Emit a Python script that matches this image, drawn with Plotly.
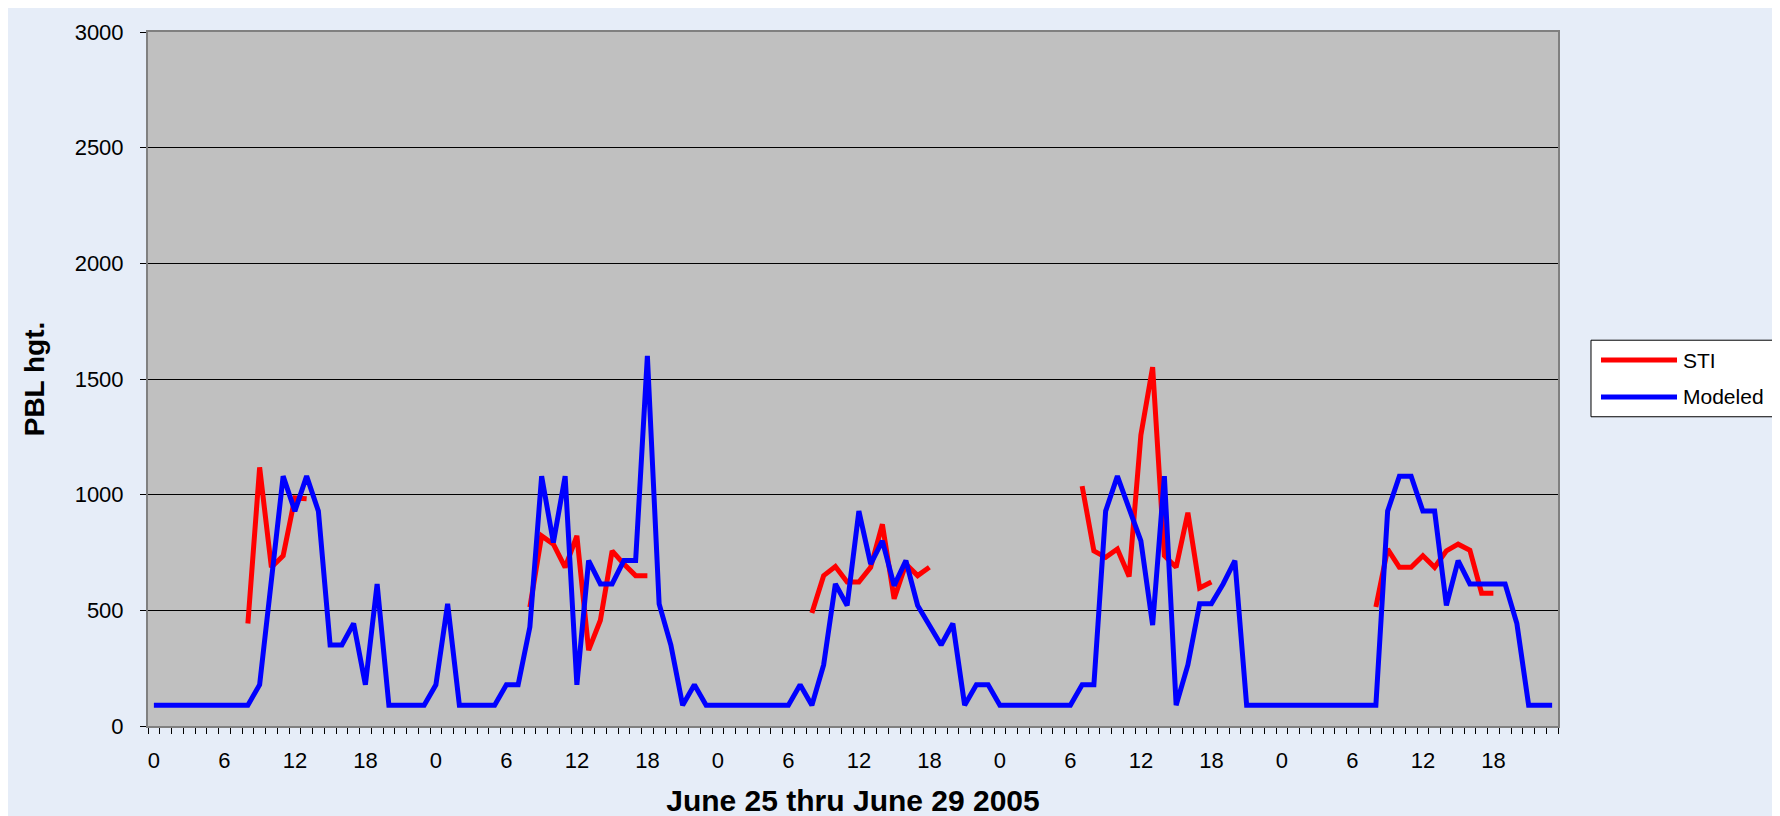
import plotly.graph_objects as go

# hours 0..119, June 25 00h thru June 29 23h
hours = list(range(120))

sti = (
    [None] * 8
    + [443, 1118, 686, 736, 986, 982]
    + [None] * 18
    + [514, 822, 786, 686, 822, 328, 457, 757, 700, 650, 650]
    + [None] * 13
    + [489, 650, 689, 622, 622, 686, 872, 550, 700, 650, 686]
    + [None] * 12
    + [1037, 757, 729, 765, 646, 1258, 1551, 736, 686, 922, 597, 622]
    + [None] * 13
    + [514, 765, 686, 686, 736, 686, 757, 786, 760, 574, 574]
    + [None] * 5
)

modeled = (
    [90] * 9
    + [178, 630, 1080, 929, 1080, 929, 350, 350, 443, 178, 614]
    + [90, 90, 90, 90, 178, 528, 90, 90, 90, 90, 178, 178, 428, 1080, 793, 1080,
       178, 715, 614, 614, 715, 715, 1600, 528, 350, 90, 178, 90]
    + [90] * 7
    + [178, 90, 264, 614, 521, 929, 700, 800, 607, 715, 521, 436, 350, 443, 90, 178, 178]
    + [90] * 7
    + [178, 178, 929, 1080, 940, 800, 436, 1080, 90, 264, 528, 528, 614, 715]
    + [90] * 12
    + [929, 1080, 1080, 929, 929, 521, 715, 614, 614, 614, 614, 443, 90, 90, 90]
)

tick_pos = list(range(0, 120, 6))
tick_text = ["0", "6", "12", "18"] * 5

series_names = ["STI", "Modeled"]
series_colors = ["#ff0000", "#0000ff"]

font = "Liberation Sans, Arial, sans-serif"

fig = go.Figure()
for name, ys, col in zip(series_names, [sti, modeled], series_colors):
    fig.add_trace(go.Scatter(x=hours, y=ys, mode="lines", name=name,
                             line=dict(color=col, width=5), connectgaps=False,
                             showlegend=False))

# legend drawn by hand so the line samples are as long as in the original
fig.add_shape(type="rect", xref="paper", yref="paper",
              x0=1.0234, x1=1.1617, y0=0.4456, y1=0.5559,
              fillcolor="white", line=dict(color="black", width=1))
for i, (name, col) in enumerate(zip(series_names, series_colors)):
    ly = 0.5272 - i * 0.053
    fig.add_shape(type="line", xref="paper", yref="paper",
                  x0=1.0305, x1=1.0844, y0=ly, y1=ly,
                  line=dict(color=col, width=5))
    fig.add_annotation(xref="paper", yref="paper", x=1.0872, y=ly, text=name,
                       showarrow=False, xanchor="left", yanchor="middle",
                       font=dict(size=21, color="black"))

fig.update_layout(
    width=1780, height=816,
    margin=dict(l=140, r=230, t=20, b=98),
    paper_bgcolor="#e6edf8",
    plot_bgcolor="#c0c0c0",
    font=dict(family=font, size=22, color="black"),
    xaxis=dict(
        range=[-0.5, 119.5], tickmode="array", tickvals=tick_pos, ticktext=tick_text,
        ticks="", showgrid=False, zeroline=False,
        showline=True, linecolor="#808080", linewidth=2, mirror=True,
        ticklabelstandoff=14,
        minor=dict(ticks="outside", tickmode="linear", tick0=-0.5, dtick=1,
                   ticklen=6, tickcolor="black", showgrid=False),
        title=dict(text="<b>June 25 thru June 29 2005</b>", font=dict(size=30), standoff=18),
    ),
    yaxis=dict(
        range=[0, 3000], dtick=500, ticks="outside", ticklen=6, tickcolor="black",
        ticklabelstandoff=12,
        showgrid=True, gridcolor="black", gridwidth=1, zeroline=False,
        showline=True, linecolor="#808080", linewidth=2, mirror=True,
        title=dict(text="<b>PBL hgt.</b>", font=dict(size=28), standoff=22),
    ),
)

fig.write_html("out.html")
